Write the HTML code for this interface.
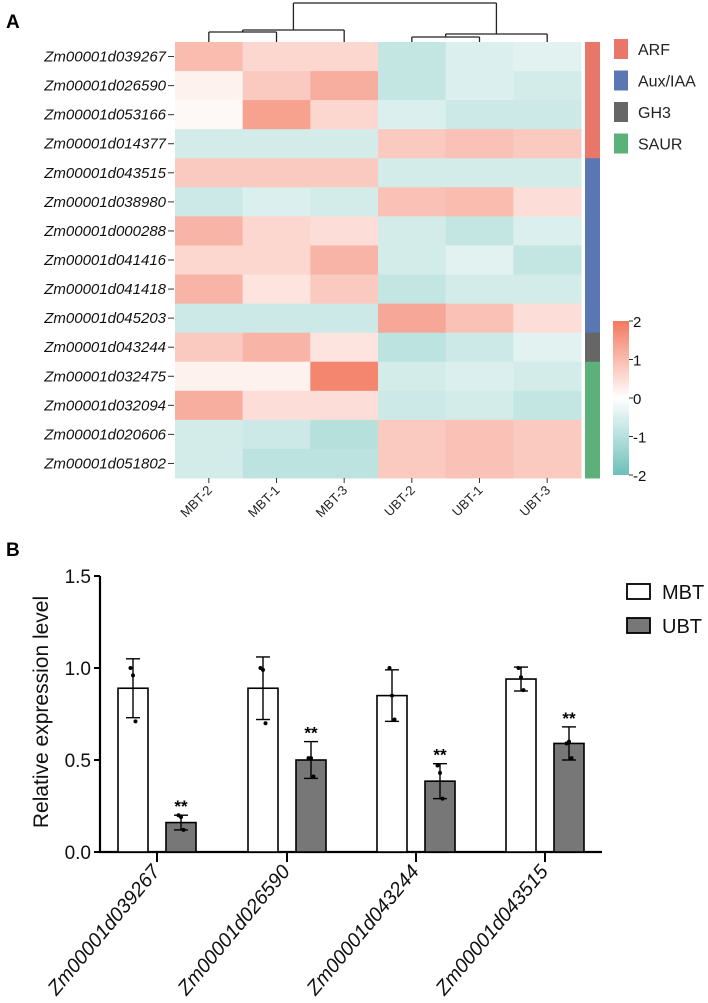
<!DOCTYPE html>
<html><head><meta charset="utf-8">
<style>
body{margin:0;background:#fff;}
svg{display:block;font-family:"Liberation Sans",sans-serif;}
</style></head>
<body>
<svg id="fig" width="708" height="1003" viewBox="0 0 708 1003">
<text x="6" y="28" font-size="19" font-weight="bold">A</text>
<text x="6" y="556" font-size="19" font-weight="bold">B</text>
<g id="heat"></g>
<g id="bars"></g>
</svg>
<script>
const genes = ["Zm00001d039267","Zm00001d026590","Zm00001d053166","Zm00001d014377","Zm00001d043515","Zm00001d038980","Zm00001d000288","Zm00001d041416","Zm00001d041418","Zm00001d045203","Zm00001d043244","Zm00001d032475","Zm00001d032094","Zm00001d020606","Zm00001d051802"];
const samples = ["MBT-2","MBT-1","MBT-3","UBT-2","UBT-1","UBT-3"];
const zvals = [
[1.0,0.6,0.6,-0.8,-0.5,-0.4],
[0.2,0.8,1.2,-0.8,-0.5,-0.6],
[0.1,1.4,0.6,-0.5,-0.7,-0.7],
[-0.6,-0.6,-0.6,0.8,0.9,0.8],
[0.8,0.8,0.8,-0.6,-0.6,-0.6],
[-0.7,-0.5,-0.6,0.9,1.0,0.5],
[1.1,0.6,0.5,-0.6,-0.8,-0.5],
[0.6,0.6,1.1,-0.6,-0.4,-0.8],
[1.1,0.4,0.8,-0.8,-0.6,-0.6],
[-0.7,-0.7,-0.7,1.3,0.9,0.5],
[0.8,1.1,0.4,-0.9,-0.7,-0.4],
[0.2,0.2,1.8,-0.6,-0.5,-0.6],
[1.2,0.5,0.5,-0.7,-0.6,-0.8],
[-0.6,-0.7,-1.0,0.8,0.9,0.8],
[-0.6,-0.9,-0.9,0.8,0.9,0.8]];
const families = ["ARF","ARF","ARF","ARF","Aux/IAA","Aux/IAA","Aux/IAA","Aux/IAA","Aux/IAA","Aux/IAA","GH3","SAUR","SAUR","SAUR","SAUR"];
const familyNames = ["ARF","Aux/IAA","GH3","SAUR"];
const familyColors = ["#E8776A","#5B77B3","#666666","#5CB07A"];
const scaleTicks = [2,1,0,-1,-2];

const barGenes = ["Zm00001d039267","Zm00001d026590","Zm00001d043244","Zm00001d043515"];
const mbtMean = [0.89,0.89,0.85,0.94];
const mbtSd = [0.16,0.17,0.14,0.065];
const ubtMean = [0.16,0.50,0.385,0.59];
const ubtSd = [0.04,0.10,0.095,0.09];
const mbtPts = [[1.0,0.96,0.71],[1.0,0.99,0.70],[1.0,0.85,0.72],[1.0,0.95,0.88]];
const ubtPts = [[0.20,0.19,0.12],[0.51,0.51,0.41],[0.47,0.43,0.29],[0.59,0.60,0.51]];
const yTicks = [0.0,0.5,1.0,1.5];
const yTickLabels = ["0.0","0.5","1.0","1.5"];

const NS="http://www.w3.org/2000/svg";
function mk(parent,tag,attrs,text){const e=document.createElementNS(NS,tag);for(const k in attrs)e.setAttribute(k,attrs[k]);if(text!==undefined)e.textContent=text;parent.appendChild(e);return e;}
function mix(a,b,t){return [0,1,2].map(i=>Math.round(a[i]+(b[i]-a[i])*t));}
function colorOf(v){const t=Math.min(1,Math.abs(v)/2);const c=v>=0?mix([255,255,255],[243,120,95],t):mix([255,255,255],[108,192,185],t);return `rgb(${c})`;}

// heatmap
const H=document.getElementById('heat');
const hx0=175,hx1=581,hy0=42,hy1=478;
const cw=(hx1-hx0)/samples.length, rh=(hy1-hy0)/genes.length;
const colX=i=>hx0+cw*(i+0.5), rowY=j=>hy0+rh*(j+0.5);
zvals.forEach((row,j)=>row.forEach((v,i)=>{
  const r=mk(H,'rect',{x:hx0+cw*i,y:hy0+rh*j,width:cw+0.5,height:rh+0.5,fill:colorOf(v)});
  
  
}));
genes.forEach((g,j)=>{
  const t=mk(H,'text',{x:166,y:rowY(j)+5,'text-anchor':'end','font-size':15,'font-style':'italic',fill:'#111'},g);
  
  
  mk(H,'line',{x1:168,x2:174,y1:rowY(j),y2:rowY(j),stroke:'#333','stroke-width':1});
});
samples.forEach((s,i)=>{
  mk(H,'line',{x1:colX(i),x2:colX(i),y1:hy1,y2:hy1+5,stroke:'#333','stroke-width':1});
  const t=mk(H,'text',{x:colX(i)+4,y:hy1+13,'text-anchor':'end','font-size':13,fill:'#222',transform:`rotate(-45 ${colX(i)+4} ${hy1+13})`},s);
  
  
});
// dendrogram
const D=mk(H,'g',{stroke:'#222','stroke-width':1.3,fill:'none'});


function seg(x1,y1,x2,y2){mk(D,'path',{d:`M${x1},${y1}L${x2},${y2}`});}
const lA=(colX(0)+colX(1))/2, lTop=(lA+colX(2))/2;
seg(colX(0),hy0,colX(0),32);seg(colX(1),hy0,colX(1),32);seg(colX(0),32,colX(1),32);
seg(lA,32,lA,30);seg(colX(2),hy0,colX(2),30);seg(lA,30,colX(2),30);
const rA=(colX(3)+colX(4))/2, rTop=(rA+colX(5))/2;
seg(colX(3),hy0,colX(3),37);seg(colX(4),hy0,colX(4),37);seg(colX(3),37,colX(4),37);
seg(rA,37,rA,34);seg(colX(5),hy0,colX(5),34);seg(rA,34,colX(5),34);
seg(lTop,30,lTop,3);seg(rTop,34,rTop,3);seg(lTop,3,rTop,3);
// annotation bar
families.forEach((f,j)=>{
  const r=mk(H,'rect',{x:585,y:hy0+rh*j,width:15,height:rh+0.5,fill:familyColors[familyNames.indexOf(f)]});
  
  
});
familyNames.forEach((f,k)=>{
  const y=39+k*31.5;
  const r=mk(H,'rect',{x:614,y:y,width:14,height:20,fill:familyColors[k]});
  
  
  const t=mk(H,'text',{x:638,y:y+16,'font-size':16,fill:'#222'},f);
  
  
});
// color bar
const defs=mk(H,'defs',{});
const gr=mk(defs,'linearGradient',{id:'cb',x1:0,y1:0,x2:0,y2:1});
[2,1,0,-1,-2].forEach((v,k)=>mk(gr,'stop',{offset:k/4,'stop-color':colorOf(v)}));
const cb=mk(H,'rect',{x:613,y:321,width:16,height:154,fill:'url(#cb)'});


scaleTicks.forEach(v=>{
  const y=321+(2-v)/4*154;
  mk(H,'line',{x1:629,x2:633,y1:y,y2:y,stroke:'#333'});
  const t=mk(H,'text',{x:633,y:y+6,'font-size':15,fill:'#111'},v);
  
  
});

// bar chart
const B=document.getElementById('bars');
const y0=852,pxPer=184,ax0=100,ax1=602;
const yS=v=>y0-v*pxPer;
const groupX=[157,287,416,545];
const bw=30;
mk(B,'line',{x1:ax0,x2:ax0,y1:yS(1.5),y2:y0+1,stroke:'#000','stroke-width':2.2});
mk(B,'line',{x1:ax0-1,x2:ax1,y1:y0,y2:y0,stroke:'#000','stroke-width':2.2});
yTicks.forEach((v,k)=>{
  mk(B,'line',{x1:ax0-6,x2:ax0,y1:yS(v),y2:yS(v),stroke:'#000','stroke-width':2});
  const t=mk(B,'text',{x:ax0-9,y:yS(v)+7,'text-anchor':'end','font-size':19,fill:'#111'},yTickLabels[k]);
  
  
});
const yt=mk(B,'text',{x:48,y:712,'text-anchor':'middle','font-size':21,fill:'#111',transform:'rotate(-90 48 712)'},'Relative expression level');


function drawBar(cx,m,sd,pts,fill,name,star){
  const r=mk(B,'rect',{x:cx-bw/2,y:yS(m),width:bw,height:y0-yS(m),fill:fill,stroke:'#000','stroke-width':1.6});
  
  
  mk(B,'line',{x1:cx,x2:cx,y1:yS(m+sd),y2:yS(m-sd),stroke:'#000','stroke-width':1.4});
  [m+sd,m-sd].forEach(v=>mk(B,'line',{x1:cx-7,x2:cx+7,y1:yS(v),y2:yS(v),stroke:'#000','stroke-width':1.4}));
  pts.forEach((p,k)=>mk(B,'circle',{cx:cx+(k-1)*2.5,cy:yS(p),r:2,fill:'#000'}));
  if(star){const t=mk(B,'text',{x:cx,y:yS(m+sd)-3,'text-anchor':'middle','font-size':17,'font-weight':'bold'},'**');
    
    }
}
barGenes.forEach((g,i)=>{
  const gx=groupX[i];
  drawBar(gx-24,mbtMean[i],mbtSd[i],mbtPts[i],'#fff','bar-mbt',false);
  drawBar(gx+24,ubtMean[i],ubtSd[i],ubtPts[i],'#777','bar-ubt',true);
  mk(B,'line',{x1:gx,x2:gx,y1:y0,y2:y0+10,stroke:'#000','stroke-width':2});
  const t=mk(B,'text',{x:gx+4,y:y0+20,'text-anchor':'end','font-size':20,'font-style':'italic',fill:'#111',transform:`rotate(-50 ${gx+4} ${y0+20})`},g);
  
  
});
[["MBT","#fff",584],["UBT","#777",618]].forEach(([n,f,y])=>{
  const r=mk(B,'rect',{x:627,y:y,width:23,height:15,fill:f,stroke:'#000','stroke-width':1.8});
  
  
  const t=mk(B,'text',{x:662,y:y+15,'font-size':20,fill:'#111'},n);
  
  
});
</script>
</body></html>
